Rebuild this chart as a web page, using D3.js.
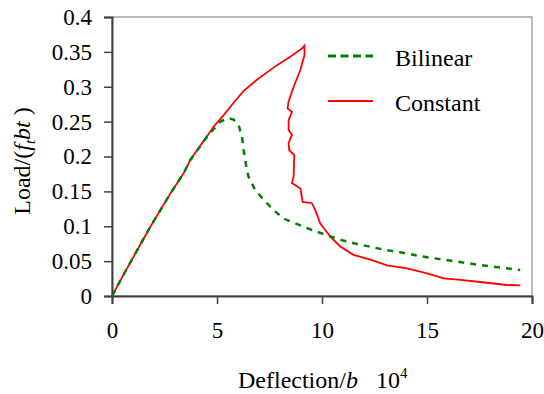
<!DOCTYPE html>
<html>
<head>
<meta charset="utf-8">
<script src="https://cdn.jsdelivr.net/npm/d3@7"></script>
<style>
  body { margin: 0; background: #fff; }
  svg text { font-family: "Liberation Serif", "Times New Roman", serif !important; }
</style>
</head>
<body>
<svg id="chart" width="544" height="394"></svg>
<script>
// --- data ---
const constantX = [0, 0.63, 1.82, 2.78, 3.41, 3.73, 4.05, 4.52, 4.9, 5.31, 5.79, 6.27, 6.9, 7.4, 7.86, 8.49, 9.05, 9.16,
  9.17, 8.97, 8.65, 8.41, 8.36, 8.57, 8.41, 8.41, 8.57, 8.41, 8.44, 8.68, 8.65, 8.57, 8.97, 9.08, 9.52, 9.68,
  9.92, 10.4, 10.87, 11.5, 12.3, 13.1, 14.05, 15.0, 15.8, 16.6, 17.86, 18.8, 19.44];
const constantY = [0, 0.035, 0.099, 0.147, 0.176, 0.195, 0.209, 0.229, 0.245, 0.259, 0.277, 0.294, 0.310, 0.321, 0.331, 0.343, 0.355, 0.359,
  0.346, 0.324, 0.300, 0.279, 0.269, 0.264, 0.252, 0.238, 0.231, 0.219, 0.209, 0.202, 0.171, 0.162, 0.154, 0.135, 0.133, 0.123,
  0.104, 0.085, 0.071, 0.059, 0.052, 0.044, 0.0397, 0.0325, 0.0254, 0.023, 0.019, 0.0158, 0.0153];

const bilinearX = [0, 0.63, 1.82, 2.78, 3.41, 3.73, 4.52, 5.16, 5.55, 5.79, 6.03, 6.19, 6.27, 6.4, 6.5, 6.82, 7.22,
  7.54, 7.78, 8.17, 8.65, 9.52, 10.24, 10.95, 11.67, 12.86, 13.73, 15.0, 16.27, 17.54, 18.8, 19.44];
const bilinearY = [0, 0.035, 0.099, 0.147, 0.176, 0.195, 0.228, 0.250, 0.255, 0.253, 0.245, 0.228, 0.209, 0.185, 0.171, 0.152, 0.138,
  0.128, 0.121, 0.111, 0.105, 0.0946, 0.087, 0.080, 0.0746, 0.067, 0.0626, 0.0555, 0.050, 0.0444, 0.0397, 0.0373];

const xTicks = [0, 5, 10, 15, 20];
const yTicks = [0, 0.05, 0.1, 0.15, 0.2, 0.25, 0.3, 0.35, 0.4];
const seriesNames = ["Bilinear", "Constant"];

// --- layout ---
const width = 544, height = 394;
const margin = { top: 17, right: 12, bottom: 98, left: 112 };
const serif = '"Liberation Serif", "Times New Roman", serif';
const svg = d3.select("#chart");

const x = d3.scaleLinear().domain([0, 20]).range([margin.left, width - margin.right]);
const y = d3.scaleLinear().domain([0, 0.4]).range([height - margin.bottom, margin.top]);

// plot frame
svg.append("rect")
  .attr("x", x(0)).attr("y", y(0.4))
  .attr("width", x(20) - x(0)).attr("height", y(0) - y(0.4))
  .attr("fill", "none").attr("stroke", "#a6a6a6").attr("stroke-width", 1.5);

const fmt = d => d === 0 ? "0" : String(+d.toFixed(2));

const xAxis = svg.append("g")
  .attr("transform", `translate(0,${y(0)})`)
  .call(d3.axisBottom(x).tickValues(xTicks).tickSize(8).tickPadding(12).tickFormat(d3.format("d")));
const yAxis = svg.append("g")
  .attr("transform", `translate(${x(0)},0)`)
  .call(d3.axisLeft(y).tickValues(yTicks).tickSize(8).tickPadding(12).tickFormat(fmt));

[xAxis, yAxis].forEach(a => {
  a.attr("font-family", serif).attr("font-size", 23);
  a.select(".domain").attr("stroke", "#404040").attr("stroke-width", 2);
  a.selectAll(".tick line").attr("stroke", "#404040").attr("stroke-width", 1.5);
  a.selectAll(".tick text").attr("fill", "#000").style("font-family", serif).style("font-size", "23px");
});
xAxis.selectAll(".tick text").attr("dy", "0.95em");

// lines
const line = d3.line().x(d => x(d[0])).y(d => y(d[1]));
const bilinear = bilinearX.map((v, i) => [v, bilinearY[i]]);
const constant = constantX.map((v, i) => [v, constantY[i]]);

svg.append("path").datum(constant)
  .attr("d", line).attr("fill", "none")
  .attr("stroke", "#ff0000").attr("stroke-width", 1.8);
svg.append("path").datum(bilinear)
  .attr("d", line).attr("fill", "none")
  .attr("stroke", "#008000").attr("stroke-width", 2.5)
  .attr("stroke-dasharray", "6,6");

// legend
const legend = svg.append("g");
const legendStyles = [
  { color: "#008000", dash: "8,4.5", w: 3 },
  { color: "#ff0000", dash: null, w: 1.8 }
];
seriesNames.forEach((name, i) => {
  const ly = 56 + i * 45;
  legend.append("line")
    .attr("x1", 328).attr("x2", 373).attr("y1", ly).attr("y2", ly)
    .attr("stroke", legendStyles[i].color).attr("stroke-width", legendStyles[i].w)
    .attr("stroke-dasharray", legendStyles[i].dash);
  legend.append("text")
    .attr("x", 395).attr("y", ly + 10)
    .attr("font-size", 24).text(name);
});

// axis titles
const xt = svg.append("text")
  .attr("x", 238).attr("y", 388).attr("font-size", 24);
xt.append("tspan").text("Deflection/");
xt.append("tspan").attr("font-style", "italic").text("b");
xt.append("tspan").attr("dx", 18).text("10");
xt.append("tspan").attr("font-size", 15).attr("dy", -10).text("4");

const yt = svg.append("text")
  .attr("transform", "translate(30,161) rotate(-90)")
  .attr("text-anchor", "middle").attr("font-size", 24);
yt.append("tspan").text("Load/(");
yt.append("tspan").attr("font-style", "italic").text("f");
yt.append("tspan").attr("font-style", "italic").attr("font-size", 15).attr("dy", 5).text("t");
yt.append("tspan").attr("font-style", "italic").attr("dy", -5).text("bt");
yt.append("tspan").text(" )");
</script>
</body>
</html>
